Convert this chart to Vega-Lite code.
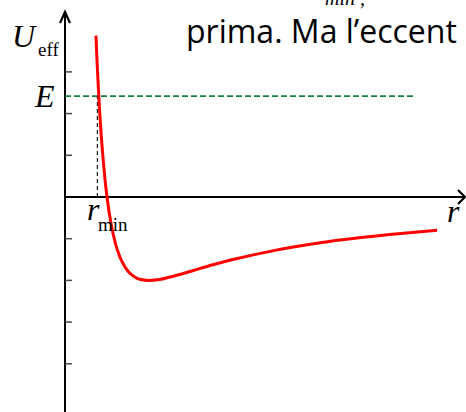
{
  "$schema": "https://vega.github.io/schema/vega-lite/v6.json",
  "width": 466,
  "height": 412,
  "padding": 0,
  "autosize": {"type": "none"},
  "background": "#ffffff",
  "config": {"view": {"stroke": null}},
  "datasets": {
    "curve": [
      {"r": 0.737, "U": 3.87}, {"r": 0.76, "U": 3.32}, {"r": 0.78, "U": 2.89},
      {"r": 0.8, "U": 2.5}, {"r": 0.83, "U": 1.97}, {"r": 0.86, "U": 1.51},
      {"r": 0.9, "U": 0.99}, {"r": 0.95, "U": 0.44}, {"r": 1.0, "U": 0.0},
      {"r": 1.1, "U": -0.66}, {"r": 1.2, "U": -1.11}, {"r": 1.3, "U": -1.42},
      {"r": 1.4, "U": -1.63}, {"r": 1.5, "U": -1.78}, {"r": 1.65, "U": -1.91},
      {"r": 1.8, "U": -1.98}, {"r": 2.0, "U": -2.0}, {"r": 2.25, "U": -1.98},
      {"r": 2.5, "U": -1.92}, {"r": 3.0, "U": -1.78}, {"r": 3.5, "U": -1.63},
      {"r": 4.0, "U": -1.5}, {"r": 5.0, "U": -1.28}, {"r": 6.0, "U": -1.11},
      {"r": 7.0, "U": -0.98}, {"r": 8.0, "U": -0.875}, {"r": 8.86, "U": -0.8}
    ],
    "arrows": [
      {"head": "up", "o": 0, "r": -0.119, "U": 4.173},
      {"head": "up", "o": 1, "r": 0, "U": 4.436},
      {"head": "up", "o": 2, "r": 0.119, "U": 4.173},
      {"head": "right", "o": 0, "r": 9.357, "U": 0.168},
      {"head": "right", "o": 1, "r": 9.524, "U": 0},
      {"head": "right", "o": 2, "r": 9.357, "U": -0.168}
    ],
    "ticks": [
      {"U": 3}, {"U": 2}, {"U": 1}, {"U": -1}, {"U": -2}, {"U": -3}, {"U": -4}
    ],
    "labels": [
      {"t": "U", "r": -1.262, "U": 3.597, "kind": "bigItalic"},
      {"t": "E", "r": -0.714, "U": 2.158, "kind": "bigItalic"},
      {"t": "r", "r": 0.524, "U": -0.552, "kind": "bigItalic"},
      {"t": "r", "r": 9.095, "U": -0.6, "kind": "bigItalic"},
      {"t": "eff", "r": -0.643, "U": 3.381, "kind": "sub"},
      {"t": "min", "r": 0.786, "U": -0.815, "kind": "sub"}
    ]
  },
  "layer": [
    {
      "data": {"values": [{"r0": 0, "U0": -5.2, "U1": 4.436}]},
      "mark": {"type": "rule", "color": "#000000", "strokeWidth": 2},
      "encoding": {
        "x": {"field": "r0", "type": "quantitative", "scale": {"domain": [-1.548, 9.548], "nice": false, "zero": false}, "axis": null},
        "y": {"field": "U0", "type": "quantitative", "scale": {"domain": [-5.156, 4.724], "nice": false, "zero": false}, "axis": null},
        "y2": {"field": "U1"}
      }
    },
    {
      "data": {"values": [{"r0": 0, "r1": 9.524, "U0": 0}]},
      "mark": {"type": "rule", "color": "#000000", "strokeWidth": 2},
      "encoding": {
        "x": {"field": "r0", "type": "quantitative"},
        "x2": {"field": "r1"},
        "y": {"field": "U0", "type": "quantitative"}
      }
    },
    {
      "data": {"name": "arrows"},
      "mark": {"type": "line", "color": "#000000", "strokeWidth": 2.2, "strokeJoin": "miter"},
      "encoding": {
        "x": {"field": "r", "type": "quantitative"},
        "y": {"field": "U", "type": "quantitative"},
        "detail": {"field": "head"},
        "order": {"field": "o"}
      }
    },
    {
      "data": {"name": "ticks"},
      "transform": [{"calculate": "0", "as": "a"}, {"calculate": "0.167", "as": "b"}],
      "mark": {"type": "rule", "color": "#4a4a4a", "strokeWidth": 1.5},
      "encoding": {
        "x": {"field": "a", "type": "quantitative"},
        "x2": {"field": "b"},
        "y": {"field": "U", "type": "quantitative"}
      }
    },
    {
      "data": {"values": [{"r0": 0, "r1": 8.286, "E": 2.42}]},
      "mark": {"type": "rule", "color": "#1a7f40", "strokeWidth": 1.8, "strokeDash": [6, 3]},
      "encoding": {
        "x": {"field": "r0", "type": "quantitative"},
        "x2": {"field": "r1"},
        "y": {"field": "E", "type": "quantitative"}
      }
    },
    {
      "data": {"values": [{"rmin": 0.77, "U0": 0, "E": 2.42}]},
      "mark": {"type": "rule", "color": "#000000", "strokeWidth": 1.1, "strokeDash": [4, 3]},
      "encoding": {
        "x": {"field": "rmin", "type": "quantitative"},
        "y": {"field": "U0", "type": "quantitative"},
        "y2": {"field": "E"}
      }
    },
    {
      "data": {"name": "curve"},
      "mark": {"type": "line", "color": "#ff0000", "strokeWidth": 3, "interpolate": "monotone"},
      "encoding": {
        "x": {"field": "r", "type": "quantitative"},
        "y": {"field": "U", "type": "quantitative"}
      }
    },
    {
      "data": {"name": "labels"},
      "transform": [{"filter": "datum.kind == 'bigItalic'"}],
      "mark": {"type": "text", "font": "Liberation Serif", "fontStyle": "italic", "fontSize": 32, "align": "left", "baseline": "alphabetic", "color": "#000000"},
      "encoding": {
        "x": {"field": "r", "type": "quantitative"},
        "y": {"field": "U", "type": "quantitative"},
        "text": {"field": "t"}
      }
    },
    {
      "data": {"name": "labels"},
      "transform": [{"filter": "datum.kind == 'sub'"}],
      "mark": {"type": "text", "font": "Liberation Serif", "fontSize": 19, "align": "left", "baseline": "alphabetic", "color": "#000000"},
      "encoding": {
        "x": {"field": "r", "type": "quantitative"},
        "y": {"field": "U", "type": "quantitative"},
        "text": {"field": "t"}
      }
    },
    {
      "data": {"values": [{"t": "prima. Ma l’eccent", "r": 2.881, "U": 3.693}]},
      "mark": {"type": "text", "font": "Open Sans", "fontSize": 32, "align": "left", "baseline": "alphabetic", "color": "#000000"},
      "encoding": {
        "x": {"field": "r", "type": "quantitative"},
        "y": {"field": "U", "type": "quantitative"},
        "text": {"field": "t"}
      }
    },
    {
      "data": {"values": [{"t": "min ,", "r": 6.19, "U": 4.604}]},
      "mark": {"type": "text", "font": "Liberation Serif", "fontStyle": "italic", "fontSize": 20, "align": "left", "baseline": "alphabetic", "color": "#000000"},
      "encoding": {
        "x": {"field": "r", "type": "quantitative"},
        "y": {"field": "U", "type": "quantitative"},
        "text": {"field": "t"}
      }
    }
  ]
}
